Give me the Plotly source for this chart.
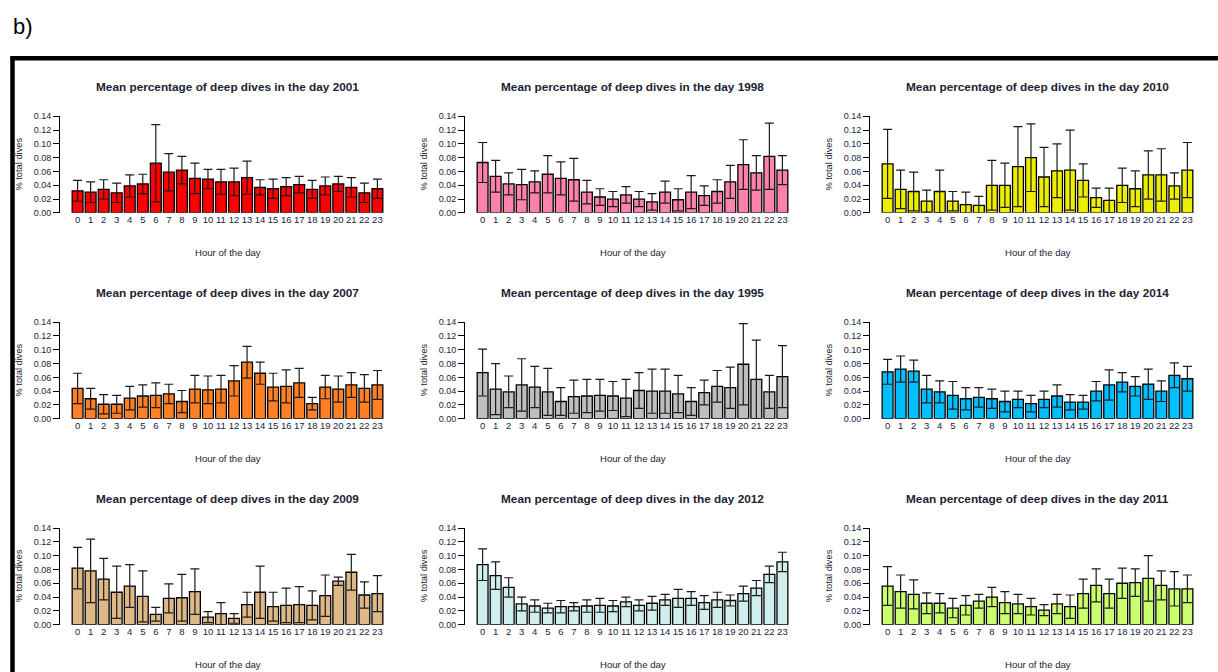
import plotly.graph_objects as go

hours = list(range(24))
hour_labels = [str(h) for h in hours]
ytick_vals = [0.0, 0.02, 0.04, 0.06, 0.08, 0.10, 0.12, 0.14]
ytick_text = ["0.00", "0.02", "0.04", "0.06", "0.08", "0.10", "0.12", "0.14"]

# Panel order (row by row)
years = ["2001", "1998", "2010", "2007", "1995", "2014", "2009", "2012", "2011"]

mean_2001 = [0.032, 0.030, 0.034, 0.029, 0.039, 0.042, 0.072, 0.059, 0.062, 0.050, 0.049, 0.045,
             0.045, 0.051, 0.037, 0.035, 0.038, 0.041, 0.034, 0.039, 0.042, 0.037, 0.029, 0.035]
sd_2001 = [0.015, 0.015, 0.014, 0.014, 0.016, 0.014, 0.056, 0.027, 0.020, 0.022, 0.014, 0.018,
           0.020, 0.024, 0.011, 0.014, 0.013, 0.012, 0.013, 0.013, 0.011, 0.014, 0.014, 0.014]

mean_1998 = [0.073, 0.053, 0.042, 0.041, 0.045, 0.056, 0.050, 0.048, 0.030, 0.023, 0.020, 0.026,
             0.020, 0.016, 0.030, 0.019, 0.030, 0.025, 0.031, 0.045, 0.070, 0.058, 0.082, 0.062]
sd_1998 = [0.029, 0.023, 0.016, 0.022, 0.016, 0.027, 0.024, 0.031, 0.017, 0.012, 0.011, 0.012,
           0.011, 0.012, 0.016, 0.016, 0.024, 0.014, 0.017, 0.024, 0.036, 0.025, 0.048, 0.021]

mean_2010 = [0.071, 0.034, 0.031, 0.017, 0.031, 0.017, 0.012, 0.011, 0.040, 0.040, 0.067, 0.080,
             0.052, 0.061, 0.062, 0.047, 0.022, 0.018, 0.040, 0.035, 0.055, 0.055, 0.039, 0.062]
sd_2010 = [0.050, 0.028, 0.028, 0.016, 0.031, 0.014, 0.018, 0.013, 0.036, 0.032, 0.058, 0.049,
           0.043, 0.039, 0.058, 0.024, 0.014, 0.018, 0.025, 0.026, 0.035, 0.038, 0.019, 0.040]

mean_2007 = [0.044, 0.029, 0.021, 0.021, 0.030, 0.033, 0.034, 0.036, 0.025, 0.043, 0.042, 0.043,
             0.055, 0.082, 0.066, 0.046, 0.047, 0.052, 0.022, 0.046, 0.043, 0.049, 0.044, 0.049]
sd_2007 = [0.022, 0.015, 0.014, 0.013, 0.017, 0.016, 0.018, 0.014, 0.016, 0.020, 0.020, 0.020,
           0.022, 0.023, 0.016, 0.020, 0.024, 0.021, 0.009, 0.017, 0.019, 0.018, 0.020, 0.021]

mean_1995 = [0.067, 0.043, 0.039, 0.049, 0.046, 0.039, 0.025, 0.032, 0.033, 0.034, 0.033, 0.030,
             0.041, 0.040, 0.040, 0.036, 0.025, 0.038, 0.047, 0.045, 0.079, 0.057, 0.039, 0.061]
sd_1995 = [0.034, 0.037, 0.023, 0.038, 0.030, 0.034, 0.020, 0.024, 0.024, 0.023, 0.021, 0.027,
           0.026, 0.032, 0.032, 0.027, 0.020, 0.018, 0.023, 0.030, 0.059, 0.057, 0.024, 0.045]

mean_2014 = [0.068, 0.072, 0.069, 0.043, 0.039, 0.034, 0.029, 0.031, 0.029, 0.025, 0.028, 0.022,
             0.028, 0.033, 0.024, 0.024, 0.040, 0.049, 0.053, 0.047, 0.050, 0.040, 0.063, 0.058]
sd_2014 = [0.018, 0.019, 0.016, 0.020, 0.016, 0.020, 0.016, 0.014, 0.014, 0.015, 0.012, 0.012,
           0.012, 0.016, 0.011, 0.010, 0.014, 0.022, 0.014, 0.014, 0.022, 0.015, 0.018, 0.018]

mean_2009 = [0.082, 0.078, 0.066, 0.047, 0.056, 0.041, 0.015, 0.038, 0.039, 0.048, 0.011, 0.016,
             0.009, 0.029, 0.047, 0.026, 0.028, 0.029, 0.028, 0.042, 0.063, 0.076, 0.043, 0.045]
sd_2009 = [0.030, 0.046, 0.030, 0.038, 0.031, 0.037, 0.010, 0.021, 0.034, 0.033, 0.008, 0.016,
           0.007, 0.018, 0.038, 0.021, 0.025, 0.026, 0.021, 0.030, 0.006, 0.026, 0.019, 0.026]

mean_2012 = [0.087, 0.071, 0.054, 0.030, 0.027, 0.024, 0.026, 0.026, 0.027, 0.028, 0.027, 0.033,
             0.028, 0.031, 0.036, 0.038, 0.038, 0.032, 0.036, 0.035, 0.045, 0.053, 0.073, 0.091]
sd_2012 = [0.023, 0.020, 0.014, 0.010, 0.009, 0.007, 0.009, 0.006, 0.009, 0.010, 0.008, 0.007,
           0.008, 0.010, 0.008, 0.013, 0.010, 0.010, 0.011, 0.008, 0.011, 0.011, 0.012, 0.014]

mean_2011 = [0.056, 0.048, 0.044, 0.031, 0.031, 0.024, 0.028, 0.034, 0.040, 0.032, 0.030, 0.026,
             0.021, 0.030, 0.026, 0.045, 0.057, 0.045, 0.060, 0.061, 0.067, 0.057, 0.052, 0.052]
sd_2011 = [0.028, 0.024, 0.021, 0.015, 0.014, 0.014, 0.014, 0.010, 0.014, 0.016, 0.014, 0.012,
           0.008, 0.014, 0.017, 0.021, 0.024, 0.021, 0.022, 0.020, 0.033, 0.021, 0.025, 0.020]

means = [mean_2001, mean_1998, mean_2010, mean_2007, mean_1995, mean_2014, mean_2009, mean_2012, mean_2011]
sds = [sd_2001, sd_1998, sd_2010, sd_2007, sd_1995, sd_2014, sd_2009, sd_2012, sd_2011]

# styles
colors = ["#FF0000", "#FF82AB", "#EEEE00", "#FF7F24", "#BEBEBE", "#00BFFF", "#DEB887", "#D1EEEE", "#CAFF70"]

W, H = 1218, 672
col_left = [60, 465, 870]
col_width = 335
row_top = [113, 322, 531]
row_bottom = [211, 420, 629]

FONT = "Liberation Sans, Arial, sans-serif"

fig = go.Figure()
layout = dict(
    width=W, height=H,
    margin=dict(l=0, r=0, t=0, b=0),
    paper_bgcolor="white", plot_bgcolor="white",
    showlegend=False,
    font=dict(family=FONT, color="#222222"),
    bargap=1 - 1 / 1.2,
)
annotations = []
shapes = []

for i, (yr, m, s, c) in enumerate(zip(years, means, sds, colors)):
    r, col = divmod(i, 3)
    suffix = "" if i == 0 else str(i + 1)
    xa, ya = "x" + suffix, "y" + suffix
    fig.add_trace(go.Bar(
        x=hours, y=m, xaxis=xa, yaxis=ya,
        marker=dict(color=c, line=dict(color="#000000", width=1.3)),
        error_y=dict(type="data", array=s, symmetric=True, color="#1a1a1a", thickness=1.2, width=4.5),
        width=1 / 1.2,
    ))
    L = col_left[col]
    T, B = row_top[r], row_bottom[r]
    layout["xaxis" + suffix] = dict(
        domain=[L / W, (L + col_width) / W], anchor=ya,
        range=[-1.35, 24.35], tickvals=hours, ticktext=hour_labels,
        showline=False, ticks="", showgrid=False, zeroline=False,
        tickfont=dict(size=9.5, family=FONT, color="#222244"), tickangle=0,
    )
    layout["yaxis" + suffix] = dict(
        domain=[1 - B / H, 1 - T / H], anchor=xa,
        range=[0, 0.14], tickvals=ytick_vals, ticktext=ytick_text,
        showline=True, linecolor="#000000", linewidth=1,
        ticks="outside", ticklen=6, tickwidth=1, tickcolor="#000000",
        showgrid=False, zeroline=False,
        tickfont=dict(size=9, family=FONT, color="#222244"),
    )
    cx = (L + L + col_width) / 2 / W
    annotations.append(dict(
        text="<b>Mean percentage of deep dives in the day " + yr + "</b>",
        x=cx, y=1 - (T - 30) / H, xref="paper", yref="paper",
        showarrow=False, font=dict(size=11.8, family=FONT, color="#222233"),
        xanchor="center", yanchor="middle",
    ))
    annotations.append(dict(
        text="Hour of the day",
        x=cx, y=1 - (B + 40) / H, xref="paper", yref="paper",
        showarrow=False, font=dict(size=9.6, family=FONT, color="#222233"),
        xanchor="center", yanchor="middle",
    ))
    annotations.append(dict(
        text="% total dives",
        x=(L - 41) / W, y=1 - (T + B) / 2 / H, xref="paper", yref="paper",
        showarrow=False, textangle=-90, font=dict(size=9.3, family=FONT, color="#222233"),
        xanchor="center", yanchor="middle",
    ))

annotations.append(dict(
    text="b)", x=11 / W, y=1 - 22 / H, xref="paper", yref="paper",
    showarrow=False, font=dict(size=22, family=FONT, color="#000000"),
    xanchor="left", yanchor="middle",
))

# outer frame (top and left edges)
shapes.append(dict(type="line", xref="paper", yref="paper",
                   x0=10.5 / W, x1=1.01, y0=1 - 54 / H, y1=1 - 54 / H,
                   line=dict(color="#000000", width=4.5)))
shapes.append(dict(type="line", xref="paper", yref="paper",
                   x0=12.5 / W, x1=12.5 / W, y0=1 - 52 / H, y1=-0.02,
                   line=dict(color="#000000", width=4.5)))

layout["annotations"] = annotations
layout["shapes"] = shapes
fig.update_layout(**layout)
fig.write_html(
    "out.html",
    config={"displayModeBar": False},
    post_script="document.body.style.margin='0';document.body.style.overflow='hidden';",
)
